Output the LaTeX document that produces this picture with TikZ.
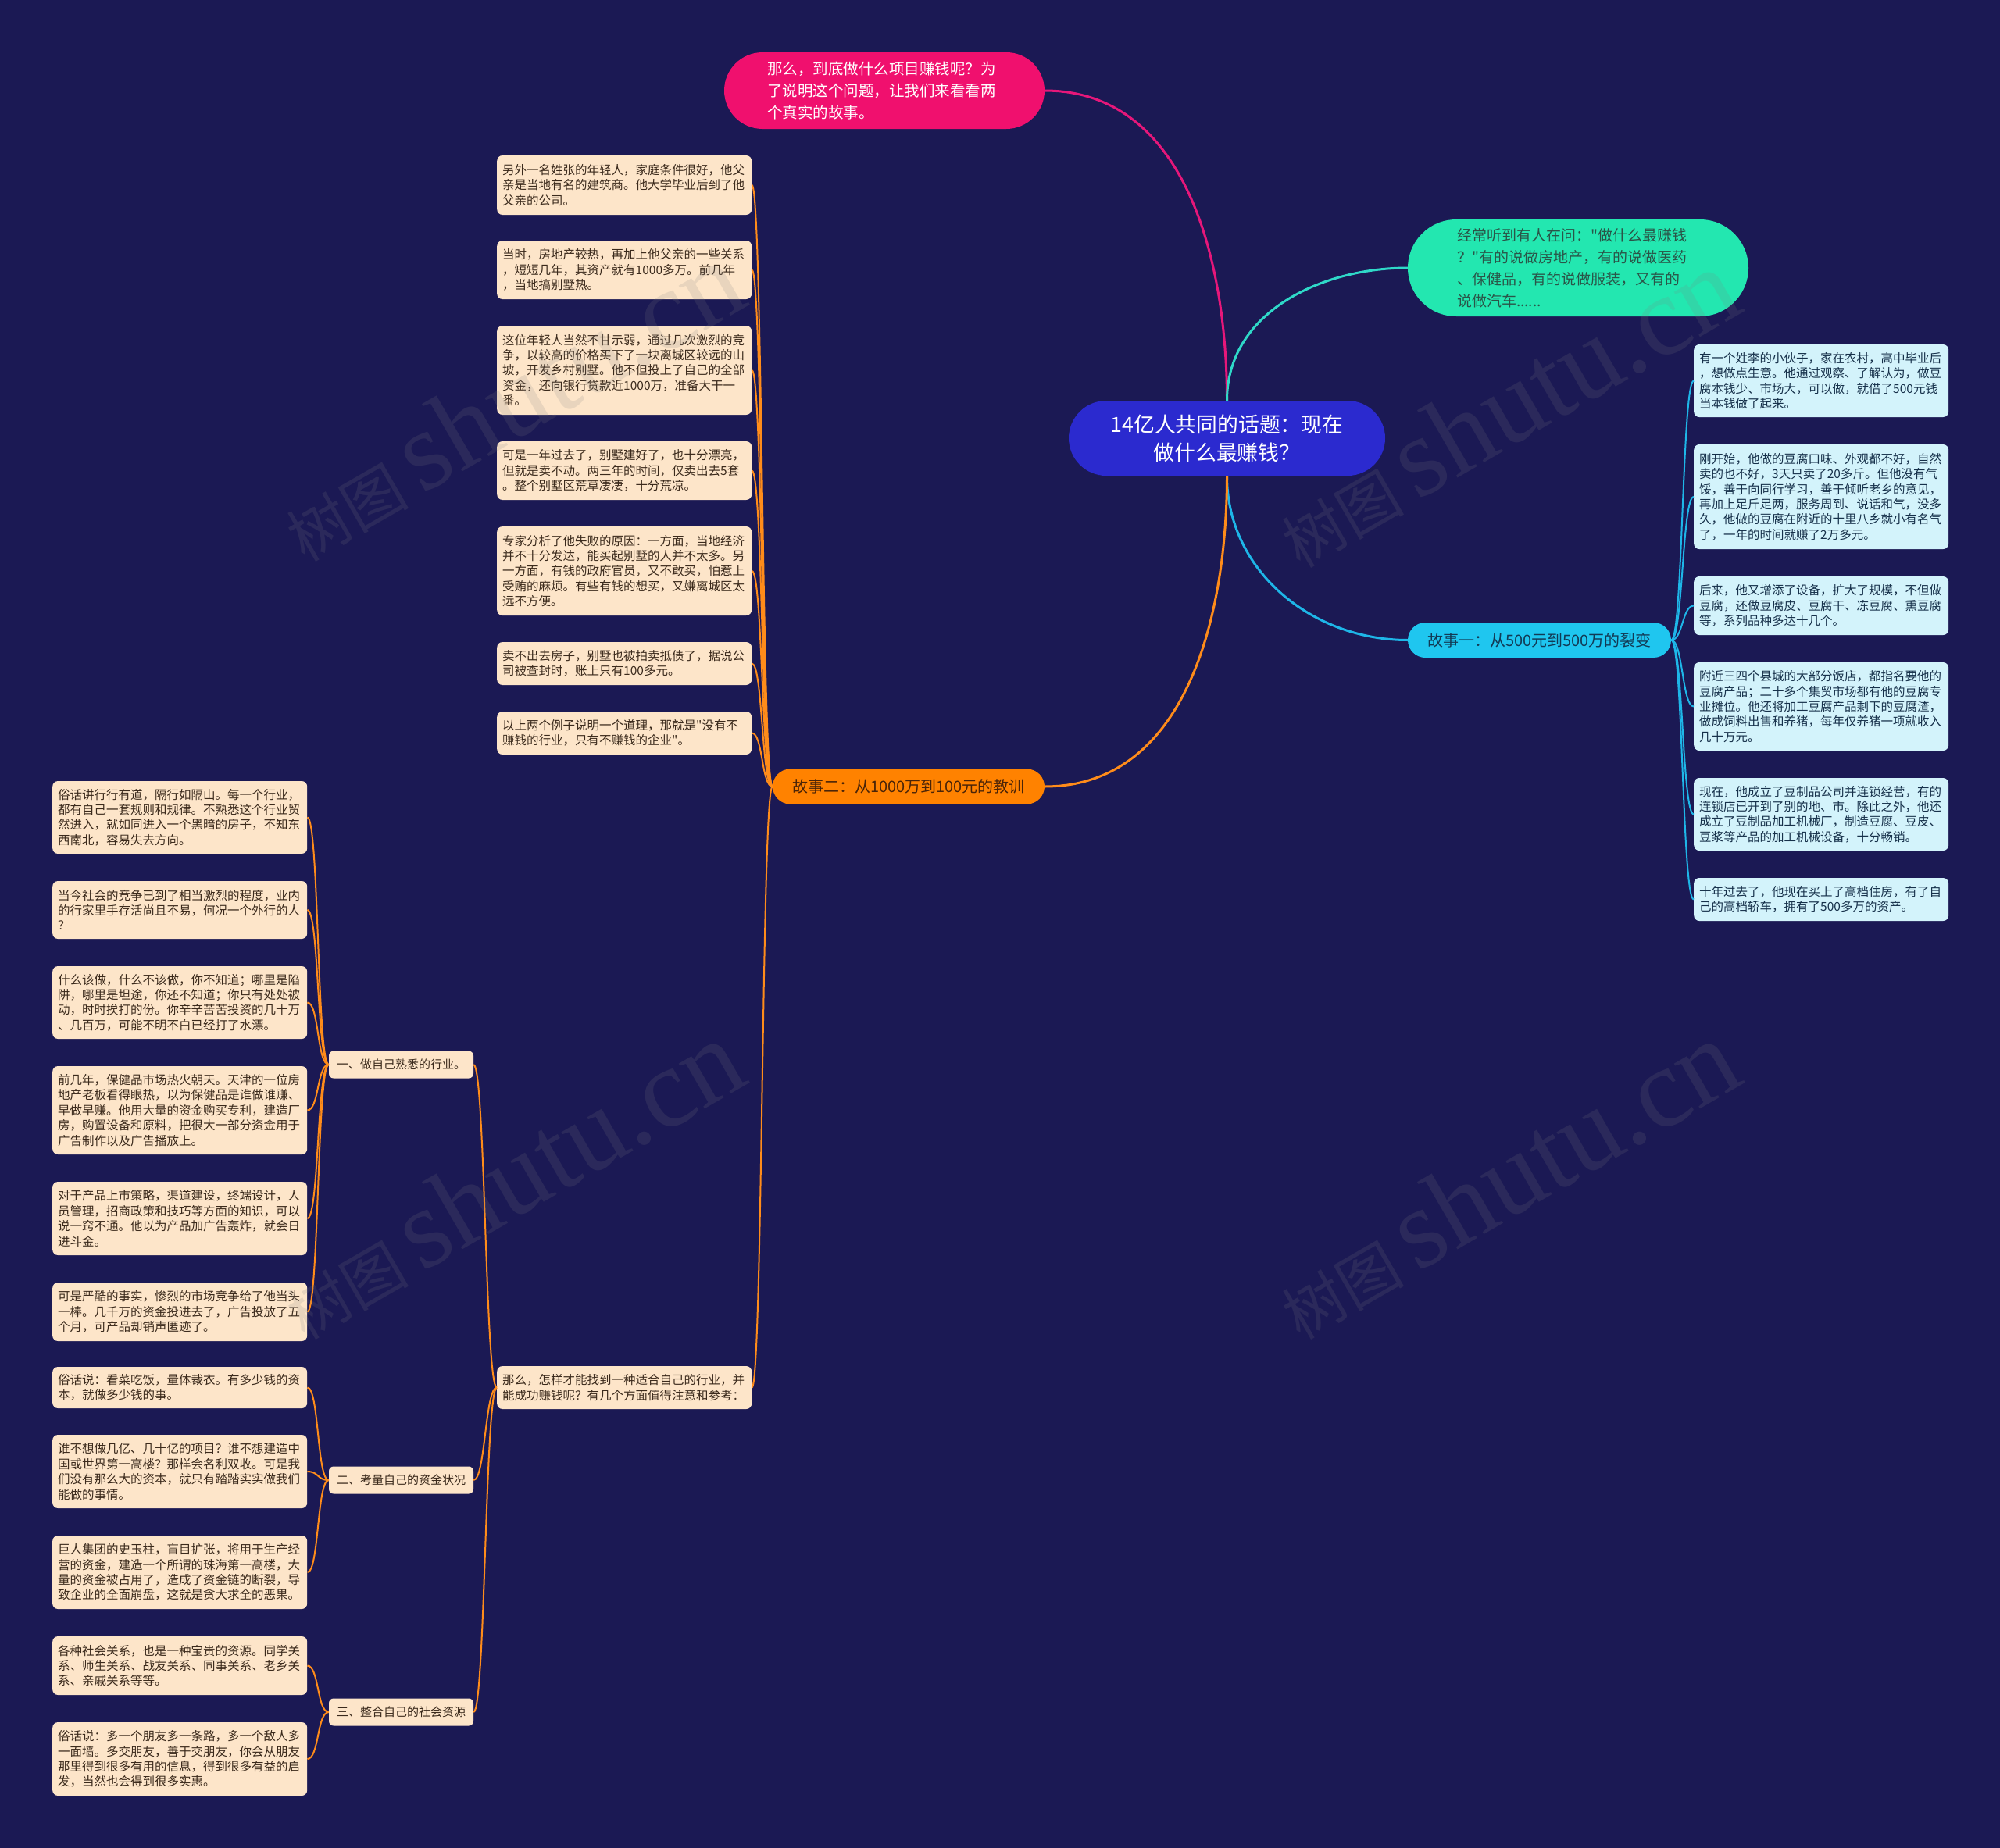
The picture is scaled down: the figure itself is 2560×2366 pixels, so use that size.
\documentclass[tikz,border=0pt]{standalone}
\usepackage{fontspec}
\setmainfont{Noto Sans CJK SC}[Ligatures=TeXOff]
\newfontfamily\wmlatin{Liberation Serif}
\definecolor{bg}{HTML}{1B1954}
\definecolor{rootc}{HTML}{2B2ACF}
\definecolor{pinkc}{HTML}{F0106E}
\definecolor{pinkline}{HTML}{E6177A}
\definecolor{greenc}{HTML}{23E7B0}
\definecolor{greenline}{HTML}{2FD8C8}
\definecolor{greentext}{HTML}{2A5548}
\definecolor{cyanc}{HTML}{1FC6EF}
\definecolor{cyanline}{HTML}{1EB6E8}
\definecolor{cyantext}{HTML}{123A55}
\definecolor{orangec}{HTML}{FF8200}
\definecolor{orangeline}{HTML}{FF8C1A}
\definecolor{orangetext}{HTML}{4A2408}
\definecolor{cream}{HTML}{FDE5C9}
\definecolor{creamtext}{HTML}{3B2A1C}
\definecolor{lightcyan}{HTML}{D3F3FB}
\definecolor{bluetext}{HTML}{16304A}
\begin{document}
\begin{tikzpicture}[x=1pt,y=1pt,
  leafbase/.style={rounded corners=7pt, text width=312pt, inner xsep=7pt, inner ysep=0pt,
    align=left, font=\fontsize{15.5}{19.4}\selectfont, anchor=west},
  leafc/.style={leafbase, fill=cream, text=creamtext},
  leafb/.style={leafbase, fill=lightcyan, text=bluetext},
  labelbox/.style={fill=cream, text=creamtext, rounded corners=6pt, minimum width=185pt,
    minimum height=35pt, inner sep=0pt, font=\fontsize{15}{18}\selectfont},
  mainline/.style={line width=3pt},
  subline/.style={line width=2pt},
  wm/.style={text=gray, opacity=0.16, rotate=30, inner sep=0pt}
]
\useasboundingbox (0,0) rectangle (2560,-2366);
\fill[bg] (0,0) rectangle (2560,-2366);

% main nodes
\node[fill=rootc, text=white, rounded corners=48pt, minimum width=405pt, minimum height=96pt,
  inner sep=0pt, align=center, font=\fontsize{26.8}{36}\selectfont] (root) at (1570.5,-561)
  {14亿人共同的话题：现在\\做什么最赚钱？};
\node[fill=pinkc, text=white, rounded corners=49pt, minimum height=98pt, text width=300pt,
  inner xsep=55pt, inner ysep=0pt, align=left, font=\fontsize{19.5}{28}\selectfont] (pink) at (1132,-116)
  {那么，到底做什么项目赚钱呢？为\\了说明这个问题，让我们来看看两\\个真实的故事。};
\node[fill=greenc, text=greentext, rounded corners=62pt, minimum height=124pt, text width=310pt,
  inner xsep=63pt, inner ysep=0pt, align=left, font=\fontsize{19}{28}\selectfont] (green) at (2020,-343)
  {经常听到有人在问："做什么最赚钱\\？"有的说做房地产，有的说做医药\\、保健品，有的说做服装，又有的\\说做汽车......};
\node[fill=cyanc, text=cyantext, rounded corners=22.5pt, minimum width=337pt, minimum height=45pt,
  inner sep=0pt, font=\fontsize{20}{24}\selectfont] (s1) at (1970.5,-819.5)
  {故事一：从500元到500万的裂变};
\node[fill=orangec, text=orangetext, rounded corners=22.5pt, minimum width=348pt, minimum height=45pt,
  inner sep=0pt, font=\fontsize{20}{24}\selectfont] (s2) at (1163,-1007)
  {故事二：从1000万到100元的教训};

% story one children
\node[leafb, minimum height=93pt] (r1) at (2168,-487.5)
  {有一个姓李的小伙子，家在农村，高中毕业后\\，想做点生意。他通过观察、了解认为，做豆\\腐本钱少、市场大，可以做，就借了500元钱\\当本钱做了起来。};
\node[leafb, minimum height=134pt] (r2) at (2168,-636)
  {刚开始，他做的豆腐口味、外观都不好，自然\\卖的也不好，3天只卖了20多斤。但他没有气\\馁，善于向同行学习，善于倾听老乡的意见，\\再加上足斤足两，服务周到、说话和气，没多\\久，他做的豆腐在附近的十里八乡就小有名气\\了，一年的时间就赚了2万多元。};
\node[leafb, minimum height=75pt] (r3) at (2168,-775.5)
  {后来，他又增添了设备，扩大了规模，不但做\\豆腐，还做豆腐皮、豆腐干、冻豆腐、熏豆腐\\等，系列品种多达十几个。};
\node[leafb, minimum height=113pt] (r4) at (2168,-904.5)
  {附近三四个县城的大部分饭店，都指名要他的\\豆腐产品；二十多个集贸市场都有他的豆腐专\\业摊位。他还将加工豆腐产品剩下的豆腐渣，\\做成饲料出售和养猪，每年仅养猪一项就收入\\几十万元。};
\node[leafb, minimum height=93pt] (r5) at (2168,-1042.5)
  {现在，他成立了豆制品公司并连锁经营，有的\\连锁店已开到了别的地、市。除此之外，他还\\成立了豆制品加工机械厂，制造豆腐、豆皮、\\豆浆等产品的加工机械设备，十分畅销。};
\node[leafb, minimum height=55pt] (r6) at (2168,-1151.5)
  {十年过去了，他现在买上了高档住房，有了自\\己的高档轿车，拥有了500多万的资产。};

% story two children
\node[leafc, minimum height=76pt] (b1) at (636,-237)
  {另外一名姓张的年轻人，家庭条件很好，他父\\亲是当地有名的建筑商。他大学毕业后到了他\\父亲的公司。};
\node[leafc, minimum height=75pt] (b2) at (636,-345.5)
  {当时，房地产较热，再加上他父亲的一些关系\\，短短几年，其资产就有1000多万。前几年\\，当地搞别墅热。};
\node[leafc, minimum height=114pt] (b3) at (636,-474)
  {这位年轻人当然不甘示弱，通过几次激烈的竞\\争，以较高的价格买下了一块离城区较远的山\\坡，开发乡村别墅。他不但投上了自己的全部\\资金，还向银行贷款近1000万，准备大干一\\番。};
\node[leafc, minimum height=75pt] (b4) at (636,-602.5)
  {可是一年过去了，别墅建好了，也十分漂亮，\\但就是卖不动。两三年的时间，仅卖出去5套\\。整个别墅区荒草凄凄，十分荒凉。};
\node[leafc, minimum height=114pt] (b5) at (636,-731)
  {专家分析了他失败的原因：一方面，当地经济\\并不十分发达，能买起别墅的人并不太多。另\\一方面，有钱的政府官员，又不敢买，怕惹上\\受贿的麻烦。有些有钱的想买，又嫌离城区太\\远不方便。};
\node[leafc, minimum height=55pt] (b6) at (636,-849.5)
  {卖不出去房子，别墅也被拍卖抵债了，据说公\\司被查封时，账上只有100多元。};
\node[leafc, minimum height=55pt] (b7) at (636,-938.5)
  {以上两个例子说明一个道理，那就是"没有不\\赚钱的行业，只有不赚钱的企业"。};
\node[leafc, minimum height=55pt] (b8) at (636,-1776.5)
  {那么，怎样才能找到一种适合自己的行业，并\\能成功赚钱呢？有几个方面值得注意和参考：};

% category labels
\node[labelbox] (l1) at (513.5,-1363) {一、做自己熟悉的行业。};
\node[labelbox] (l2) at (513.5,-1895) {二、考量自己的资金状况};
\node[labelbox] (l3) at (513.5,-2192) {三、整合自己的社会资源};

% far-left leaves
\node[leafc, minimum height=93pt] (f1) at (67,-1046.5)
  {俗话讲行行有道，隔行如隔山。每一个行业，\\都有自己一套规则和规律。不熟悉这个行业贸\\然进入，就如同进入一个黑暗的房子，不知东\\西南北，容易失去方向。};
\node[leafc, minimum height=74pt] (f2) at (67,-1165)
  {当今社会的竞争已到了相当激烈的程度，业内\\的行家里手存活尚且不易，何况一个外行的人\\？};
\node[leafc, minimum height=93pt] (f3) at (67,-1283.5)
  {什么该做，什么不该做，你不知道；哪里是陷\\阱，哪里是坦途，你还不知道；你只有处处被\\动，时时挨打的份。你辛辛苦苦投资的几十万\\、几百万，可能不明不白已经打了水漂。};
\node[leafc, minimum height=113pt] (f4) at (67,-1421.5)
  {前几年，保健品市场热火朝天。天津的一位房\\地产老板看得眼热，以为保健品是谁做谁赚、\\早做早赚。他用大量的资金购买专利，建造厂\\房，购置设备和原料，把很大一部分资金用于\\广告制作以及广告播放上。};
\node[leafc, minimum height=94pt] (f5) at (67,-1560)
  {对于产品上市策略，渠道建设，终端设计，人\\员管理，招商政策和技巧等方面的知识，可以\\说一窍不通。他以为产品加广告轰炸，就会日\\进斗金。};
\node[leafc, minimum height=75pt] (f6) at (67,-1679.5)
  {可是严酷的事实，惨烈的市场竞争给了他当头\\一棒。几千万的资金投进去了，广告投放了五\\个月，可产品却销声匿迹了。};
\node[leafc, minimum height=53pt] (f7) at (67,-1776.5)
  {俗话说：看菜吃饭，量体裁衣。有多少钱的资\\本，就做多少钱的事。};
\node[leafc, minimum height=94pt] (f8) at (67,-1884)
  {谁不想做几亿、几十亿的项目？谁不想建造中\\国或世界第一高楼？那样会名利双收。可是我\\们没有那么大的资本，就只有踏踏实实做我们\\能做的事情。};
\node[leafc, minimum height=94pt] (f9) at (67,-2013)
  {巨人集团的史玉柱，盲目扩张，将用于生产经\\营的资金，建造一个所谓的珠海第一高楼，大\\量的资金被占用了，造成了资金链的断裂，导\\致企业的全面崩盘，这就是贪大求全的恶果。};
\node[leafc, minimum height=75pt] (f10) at (67,-2132.5)
  {各种社会关系，也是一种宝贵的资源。同学关\\系、师生关系、战友关系、同事关系、老乡关\\系、亲戚关系等等。};
\node[leafc, minimum height=94pt] (f11) at (67,-2252)
  {俗话说：多一个朋友多一条路，多一个敌人多\\一面墙。多交朋友，善于交朋友，你会从朋友\\那里得到很多有用的信息，得到很多有益的启\\发，当然也会得到很多实惠。};

% main connectors
\draw[pinkline, mainline] (root.north) to[out=90,in=0] (pink.east);
\draw[greenline, mainline] (root.north) to[out=90,in=180] (green.west);
\draw[cyanline, mainline] (root.south) to[out=-90,in=180] (s1.west);
\draw[orangeline, mainline] (root.south) to[out=-90,in=0] (s2.east);

% child connectors
\foreach \n in {r1,r2,r3,r4,r5,r6}
  \draw[cyanline, subline] (s1.east) .. controls +(15,0) and +(-15,0) .. (\n.west);
\foreach \n in {b1,b2,b3,b4,b5,b6,b7,b8}
  \draw[orangeline, subline] (s2.west) .. controls +(-14,0) and +(14,0) .. (\n.east);
\foreach \n in {l1,l2,l3}
  \draw[orangeline, subline] (b8.west) .. controls +(-15,0) and +(15,0) .. (\n.east);
\foreach \n in {f1,f2,f3,f4,f5,f6}
  \draw[orangeline, subline] (l1.west) .. controls +(-15,0) and +(15,0) .. (\n.east);
\foreach \n in {f7,f8,f9}
  \draw[orangeline, subline] (l2.west) .. controls +(-15,0) and +(15,0) .. (\n.east);
\foreach \n in {f10,f11}
  \draw[orangeline, subline] (l3.west) .. controls +(-15,0) and +(15,0) .. (\n.east);

% watermarks
\node[wm] (wm1) at (653,-514) {\fontsize{78}{78}\selectfont 树图 {\wmlatin\fontsize{145}{145}\selectfont shutu.cn}};
\node[wm] (wm2) at (1927,-522) {\fontsize{78}{78}\selectfont 树图 {\wmlatin\fontsize{145}{145}\selectfont shutu.cn}};
\node[wm] (wm3) at (653,-1510) {\fontsize{78}{78}\selectfont 树图 {\wmlatin\fontsize{145}{145}\selectfont shutu.cn}};
\node[wm] (wm4) at (1927,-1510) {\fontsize{78}{78}\selectfont 树图 {\wmlatin\fontsize{145}{145}\selectfont shutu.cn}};
\end{tikzpicture}
\end{document}
